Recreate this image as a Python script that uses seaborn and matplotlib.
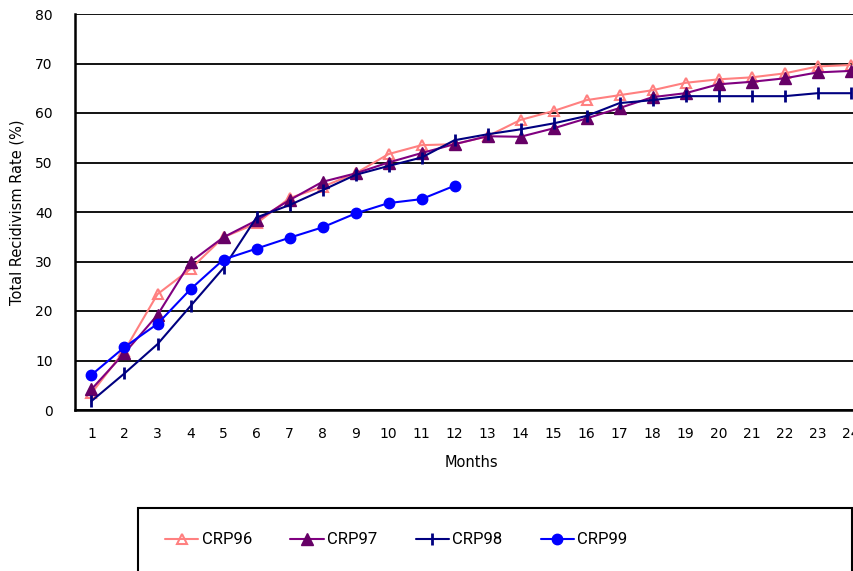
import numpy as np
import pandas as pd
import matplotlib
matplotlib.use("Agg")
import matplotlib.pyplot as plt
import seaborn as sns
from matplotlib.patches import Rectangle

months = list(range(1, 25))
crp96 = [3.4, 12.0, 23.4, 28.5, 34.9, 37.7, 42.8, 45.1, 47.8, 51.7, 53.5, 53.7,
         55.3, 58.6, 60.4, 62.6, 63.6, 64.6, 66.1, 66.8, 67.2, 68.0, 69.4, 69.7]
crp97 = [4.2, 11.5, 19.2, 29.9, 34.9, 38.3, 42.4, 46.1, 47.8, 50.0, 51.9, 53.7,
         55.3, 55.2, 56.9, 58.9, 61.0, 63.2, 64.0, 65.8, 66.3, 67.0, 68.2, 68.5]
crp98 = [1.8, 7.4, 13.3, 21.0, 28.7, 38.9, 41.4, 44.4, 47.5, 49.3, 51.0, 54.5,
         55.7, 56.7, 57.9, 59.4, 62.0, 62.6, 63.4, 63.4, 63.4, 63.4, 64.0, 64.0]
crp99 = [7.1, 12.7, 17.4, 24.4, 30.4, 32.6, 34.8, 36.9, 39.7, 41.8, 42.6, 45.3]

sns.set_style("white")
plt.rcParams['font.family'] = ['DejaVu Sans']
plt.rcParams['text.color'] = 'black'
plt.rcParams['axes.labelcolor'] = 'black'
plt.rcParams['xtick.color'] = 'black'
plt.rcParams['ytick.color'] = 'black'

fig = plt.figure(figsize=(8.54, 5.71), dpi=100)
ax = fig.add_axes([75/854, 1 - 410/571, 792/854, 396/571])

styles = [
    ("CRP96", crp96, dict(color="#FF8080", marker="^", markerfacecolor="none",
                          markeredgecolor="#FF8080", markersize=7, markeredgewidth=1.5)),
    ("CRP97", crp97, dict(color="#800080", marker="^", markerfacecolor="#660066",
                          markeredgecolor="#660066", markersize=8, markeredgewidth=1)),
    ("CRP98", crp98, dict(color="#000080", marker="|", markerfacecolor="#000080",
                          markeredgecolor="#000080", markersize=9, markeredgewidth=2)),
    ("CRP99", crp99, dict(color="#0000FF", marker="o", markerfacecolor="#0000FF",
                          markeredgecolor="#0000FF", markersize=7.5, markeredgewidth=1)),
]

for name, vals, kw in styles:
    df = pd.DataFrame({"Months": months[:len(vals)], "Rate": vals})
    sns.lineplot(data=df, x="Months", y="Rate", ax=ax, label=name,
                 linewidth=1.5, **kw)

ax.set_xlim(0.5, 24.5)
ax.set_ylim(0, 80)
ax.set_yticks(range(0, 81, 10))
ax.set_xticks(months)
ax.set_xticks(np.arange(1.5, 24.5, 1), minor=True)
ax.tick_params(axis="x", which="major", length=0, pad=12, labelsize=10)
ax.tick_params(axis="x", which="minor", direction="in", length=4, width=1.2, color="black")
ax.tick_params(axis="y", length=0, pad=16, labelsize=10)
ax.yaxis.grid(True, color="black", linewidth=1.3)
ax.set_axisbelow(True)
for s in ["left", "bottom"]:
    ax.spines[s].set_color("black")
    ax.spines[s].set_linewidth(1.8)
ax.spines["top"].set_visible(False)
ax.spines["right"].set_visible(False)

ax.set_xlabel("Months", fontsize=10.5, labelpad=10)
ax.set_ylabel("Total Recidivism Rate (%)", fontsize=10.5, labelpad=8)

handles, labels = ax.get_legend_handles_labels()
ax.get_legend().remove()
fig.add_artist(Rectangle((138/854, -0.1), 714/854, 0.1 + (571 - 508)/571,
                         transform=fig.transFigure, fill=False,
                         edgecolor="black", linewidth=1.5))
fig.legend(handles, labels, ncol=4, loc="center left",
           bbox_to_anchor=(150/854, 1 - 540/571), frameon=False,
           prop={"family": "Roboto", "size": 12}, handlelength=2.0,
           handletextpad=0.2, columnspacing=2.3)

fig.savefig("out.png", dpi=100)
